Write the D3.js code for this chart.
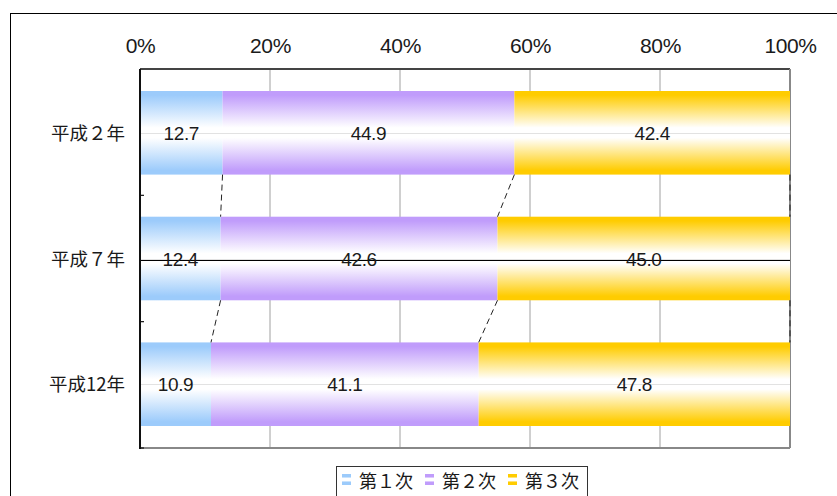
<!DOCTYPE html>
<html>
<head>
<meta charset="utf-8">
<script src="https://cdn.jsdelivr.net/npm/d3@7"></script>
<style>
  html, body { margin: 0; padding: 0; background: #fff; }
  svg { display: block; }
  text { font-family: "Noto Sans CJK JP", "Noto Sans", sans-serif; fill: #1a1a1a; }
  .num { font-family: "Liberation Sans", Arial, sans-serif; letter-spacing: -0.4px; }
</style>
</head>
<body>
<svg id="chart" width="837" height="496"></svg>
<script>
// Industry share of employed persons (第1次 / 第2次 / 第3次), 100% stacked bars
const categories = ["平成２年", "平成７年", "平成12年"];
const seriesNames = ["第１次", "第２次", "第３次"];
const primary   = [12.7, 12.4, 10.9];
const secondary = [44.9, 42.6, 41.1];
const tertiary  = [42.4, 45.0, 47.8];
const tickValues = [0, 0.2, 0.4, 0.6, 0.8, 1.0];
const colors = ["#9ccbfb", "#c09cfb", "#ffcc00"];

const svg = d3.select("#chart");
const W = 837, H = 496;
const plot = { left: 140, right: 790, top: 69, bottom: 448 };

// Outer chart frame (extends past the right and bottom edges)
svg.append("rect")
  .attr("x", 10.5).attr("y", 13.5)
  .attr("width", W).attr("height", H)
  .attr("fill", "none").attr("stroke", "#000").attr("stroke-width", 1);

const x = d3.scaleLinear().domain([0, 1]).range([plot.left, plot.right]);
const y = d3.scaleBand().domain(categories)
  .range([plot.top, plot.bottom]).paddingInner(0.335).paddingOuter(0.175);

// Gradients: solid colour at the edges fading to white in the middle
const defs = svg.append("defs");
colors.forEach((c, i) => {
  const g = defs.append("linearGradient").attr("id", "grad" + i)
    .attr("x1", 0).attr("y1", 0).attr("x2", 0).attr("y2", 1);
  [[0, c], [5, c], [44, "#fff"], [56, "#fff"], [95, c], [100, c]].forEach(([o, col]) =>
    g.append("stop").attr("offset", o + "%").attr("stop-color", col));
});
// Legend swatch: two coloured stripes with white between
colors.forEach((c, i) => {
  const g = defs.append("linearGradient").attr("id", "sw" + i)
    .attr("x1", 0).attr("y1", 0).attr("x2", 0).attr("y2", 1);
  [[0, c], [25, c], [40, "#fff"], [60, "#fff"], [75, c], [100, c]].forEach(([o, col]) =>
    g.append("stop").attr("offset", o + "%").attr("stop-color", col));
});

// Vertical gridlines
svg.append("g").selectAll("line")
  .data(tickValues.slice(1, -1))
  .join("line")
  .attr("x1", d => x(d)).attr("x2", d => x(d))
  .attr("y1", plot.top).attr("y2", plot.bottom)
  .attr("stroke", "#a0a0a0").attr("stroke-width", 1);

// Plot area border
svg.append("line").attr("x1", plot.left).attr("x2", plot.right)
  .attr("y1", plot.top).attr("y2", plot.top)
  .attr("stroke", "#444").attr("stroke-width", 2);
svg.append("line").attr("x1", plot.right).attr("x2", plot.right)
  .attr("y1", plot.top).attr("y2", plot.bottom)
  .attr("stroke", "#888").attr("stroke-width", 2);
svg.append("line").attr("x1", plot.left).attr("x2", plot.right)
  .attr("y1", plot.bottom).attr("y2", plot.bottom)
  .attr("stroke", "#888").attr("stroke-width", 2);

// Stack the three series, normalised to each year's total
const rows = categories.map((c, i) => ({
  cat: c, s0: primary[i], s1: secondary[i], s2: tertiary[i]
}));
const keys = ["s0", "s1", "s2"];
const stack = d3.stack().keys(keys).offset(d3.stackOffsetExpand);
const layers = stack(rows);
const rawVals = [primary, secondary, tertiary];

const bars = svg.append("g");
layers.forEach((layer, si) => {
  bars.selectAll(null).data(layer).join("rect")
    .attr("x", d => x(d[0]))
    .attr("y", d => y(d.data.cat))
    .attr("width", d => x(d[1]) - x(d[0]))
    .attr("height", y.bandwidth())
    .attr("fill", `url(#grad${si})`);
});

// Faint seam in the middle of each bar
svg.append("g").selectAll("line").data(categories).join("line")
  .attr("x1", plot.left).attr("x2", plot.right)
  .attr("y1", d => Math.round(y(d) + y.bandwidth() / 2) + 0.5)
  .attr("y2", d => Math.round(y(d) + y.bandwidth() / 2) + 0.5)
  .attr("stroke", "#e2e2e2").attr("stroke-width", 1);

// Dashed series lines joining the segment boundaries of adjacent bars
const series = svg.append("g");
for (let r = 0; r < categories.length - 1; r++) {
  layers.forEach(layer => {
    const a = layer[r][1], b = layer[r + 1][1];
    series.append("line")
      .attr("x1", x(a)).attr("y1", y(categories[r]) + y.bandwidth())
      .attr("x2", x(b)).attr("y2", y(categories[r + 1]))
      .attr("stroke", "#222").attr("stroke-width", 1)
      .attr("stroke-dasharray", "6,4");
  });
}

// Horizontal rule through the middle bar
const ruleY = Math.round(y(categories[1]) + y.bandwidth() / 2) + 1.5;
svg.append("line")
  .attr("x1", plot.left).attr("x2", plot.right)
  .attr("y1", ruleY).attr("y2", ruleY)
  .attr("stroke", "#000").attr("stroke-width", 1);

// Value labels
layers.forEach((layer, si) => {
  svg.append("g").selectAll("text").data(layer).join("text")
    .attr("class", "num")
    .attr("x", d => (x(d[0]) + x(d[1])) / 2)
    .attr("y", d => y(d.data.cat) + y.bandwidth() / 2 + 7)
    .attr("text-anchor", "middle")
    .attr("font-size", 19)
    .text((d, i) => rawVals[si][i].toFixed(1));
});

// Top percentage axis
const xAxis = d3.axisTop(x).tickValues(tickValues)
  .tickFormat(d3.format(".0%")).tickSize(0).tickPadding(0);
const gx = svg.append("g").attr("transform", `translate(0,${plot.top})`).call(xAxis);
gx.select(".domain").remove();
gx.selectAll("text")
  .attr("class", "num")
  .attr("y", -16)
  .attr("font-size", 21)
  .style("fill", "#1a1a1a");

// Left category axis with inward ticks on category boundaries
svg.append("line").attr("x1", plot.left).attr("x2", plot.left)
  .attr("y1", plot.top).attr("y2", plot.bottom + 1)
  .attr("stroke", "#111").attr("stroke-width", 2);
const boundaries = categories.map((c, i) => plot.top + (plot.bottom - plot.top) * (i + 1) / categories.length);
svg.append("g").selectAll("line").data(boundaries).join("line")
  .attr("x1", plot.left).attr("x2", plot.left + 4)
  .attr("y1", d => d).attr("y2", d => d)
  .attr("stroke", "#111").attr("stroke-width", 1.2);

svg.append("g").selectAll("text").data(categories).join("text")
  .attr("x", 125)
  .attr("y", d => y(d) + y.bandwidth() / 2 + 7)
  .attr("text-anchor", "end")
  .attr("font-size", 18.5)
  .text(d => d);

// Legend
const legend = svg.append("g");
legend.append("rect")
  .attr("x", 336.5).attr("y", 466.5).attr("width", 251).attr("height", 40)
  .attr("fill", "#fff").attr("stroke", "#333").attr("stroke-width", 1);
const legendX = [342, 425, 508];
seriesNames.forEach((name, i) => {
  legend.append("rect")
    .attr("x", legendX[i]).attr("y", 474).attr("width", 9).attr("height", 11)
    .attr("fill", `url(#sw${i})`);
  legend.append("text")
    .attr("x", legendX[i] + 17).attr("y", 488)
    .attr("font-size", 18)
    .text(name);
});
</script>
</body>
</html>
